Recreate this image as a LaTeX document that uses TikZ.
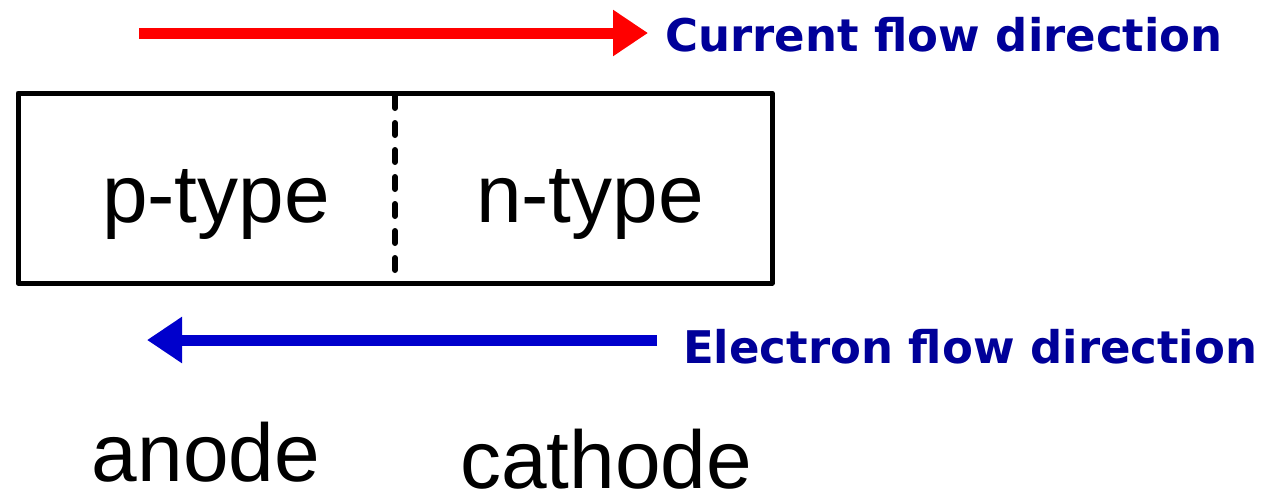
\documentclass[tikz,border=0pt]{standalone}
\usepackage{fontspec}
\setmainfont{Liberation Sans}
\newfontfamily\labfont{DejaVu Sans}
\usetikzlibrary{arrows.meta}
\definecolor{labblue}{RGB}{0,0,153}
\definecolor{arrblue}{RGB}{0,0,204}
\definecolor{arrred}{RGB}{255,0,0}
\tikzset{
  boxline/.style={line width=5pt, line join=round, line cap=round},
  divline/.style={line width=6pt, dash pattern=on 12pt off 15pt, line cap=round},
  flowarrow/.style={line width=11pt, -{Triangle[length=35pt,width=44pt]}},
  flowlabel/.style={font=\labfont\bfseries\fontsize{45}{54}\selectfont, text=labblue, anchor=base west, inner sep=0},
  bigtext/.style={font=\fontsize{82}{96}\selectfont, anchor=base, inner sep=0}
}
\begin{document}
\begin{tikzpicture}[x=1pt,y=-1pt]
\useasboundingbox (0,0) rectangle (1272,496);
% box
\coordinate (bnw) at (18,93);
\coordinate (bse) at (772,283);
\draw[boxline] (bnw) rectangle (bse);
\coordinate (dtop) at (395,96);
\coordinate (dbot) at (395,280);
\draw[divline] (dtop) -- (dbot);
% texts inside
\node[bigtext] (ptype) at (216,222) {p-type};
\node[bigtext] (ntype) at (590,222) {n-type};
% current arrow
\coordinate (cstart) at (139,33);
\coordinate (cend) at (648,33);
\draw[flowarrow, arrred] (cstart) -- (cend);
\node[flowlabel] (curlab) at (665,51) {Current flow direction};
% electron arrow
\coordinate (estart) at (657,340);
\coordinate (eend) at (147,340);
\draw[flowarrow, arrblue] (estart) -- (eend);
\node[flowlabel] (ellab) at (683,363) {Electron flow direction};
% bottom labels
\node[bigtext] (anode) at (206,481) {anode};
\node[bigtext] (cathode) at (606,488) {cathode};
\end{tikzpicture}
\end{document}
